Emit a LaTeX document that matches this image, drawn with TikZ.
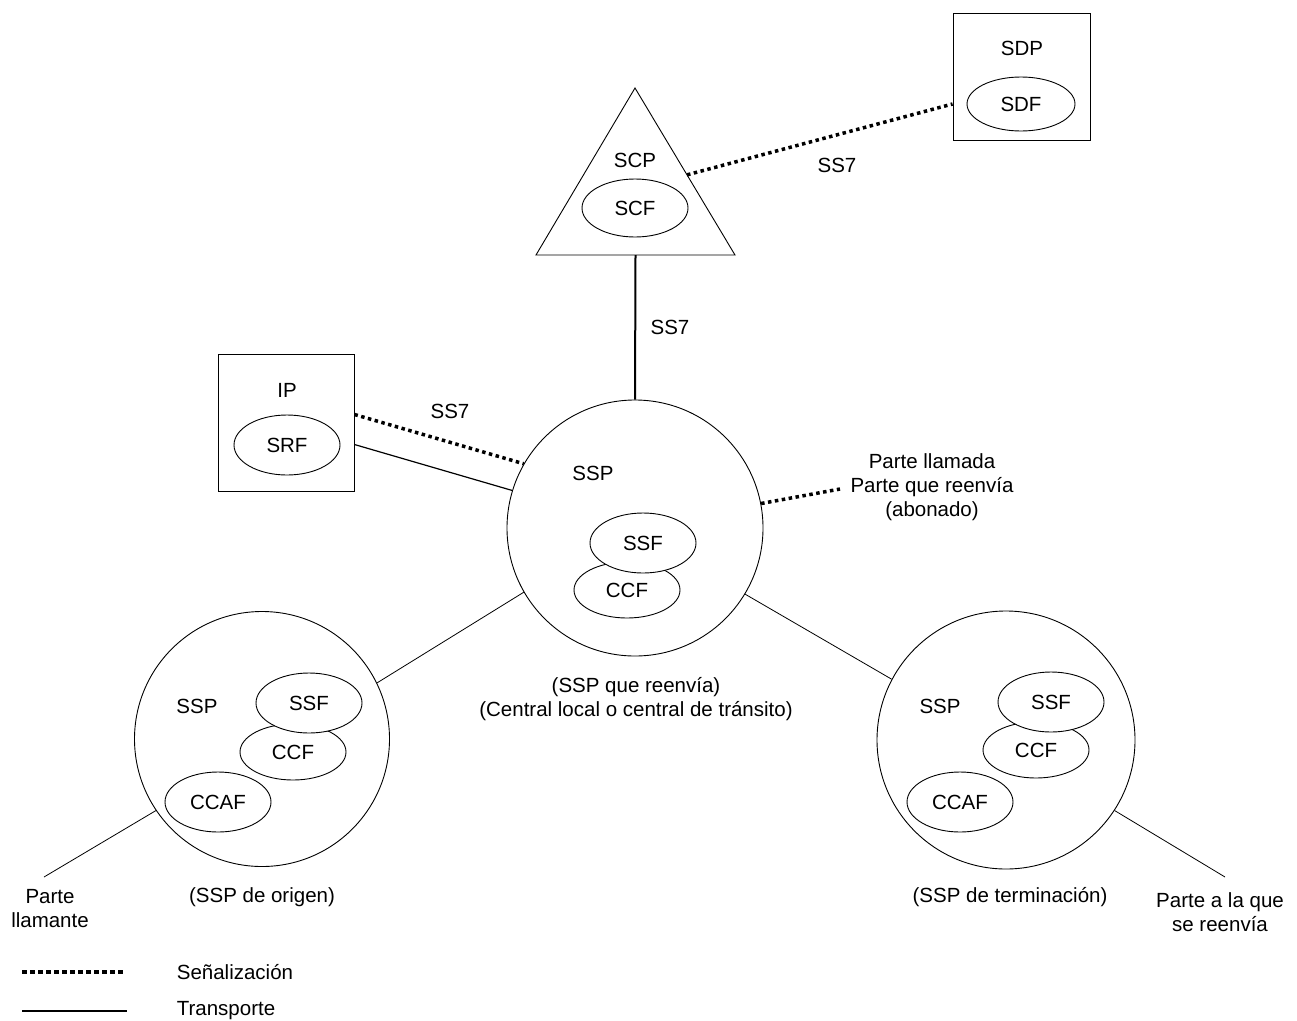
\documentclass[tikz,border=0pt]{standalone}
\usepackage{fontspec}
\setmainfont{Liberation Sans}
\usetikzlibrary{shapes.geometric,calc}
\begin{document}
\begin{tikzpicture}[x=1pt,y=-1pt,
  every node/.style={font=\fontsize{20.5}{24}\selectfont},
  lbl/.style={inner sep=0pt, align=center},
  func/.style={ellipse, draw, line width=0.9pt, fill=white, minimum width=106pt, minimum height=58pt, inner sep=0pt},
  ssp/.style={circle, draw, line width=0.9pt, fill=white, minimum size=256pt, inner sep=0pt},
  boxn/.style={rectangle, draw, line width=0.9pt, inner sep=0pt},
  signal/.style={line width=3.5pt, dash pattern=on 3.5pt off 3.5pt},
  transp/.style={line width=0.8pt},
]
\useasboundingbox (0,0) rectangle (1297,1020);

% SCP triangle
\coordinate (scpA) at (635,88);
\coordinate (scpL) at (536,255);
\coordinate (scpR) at (735,255);
\draw[line width=0.9pt, line join=miter] (scpA) -- (scpL) -- (scpR) -- cycle;
\coordinate (scpB) at ($(scpL)!0.5!(scpR)$);
\coordinate (scpS) at ($(scpA)!0.52!(scpR)$);
\node[lbl] (scp) at (635,160) {SCP};
\node[func] (scf) at (635,208) {SCF};

% SDP box
\node[boxn, minimum width=137pt, minimum height=127pt] (sdp) at (1021.5,76.5) {};
\node[lbl] (sdptxt) at (1022,48) {SDP};
\node[func, minimum width=108pt, minimum height=54pt] (sdf) at (1021,104) {SDF};

% IP box
\node[boxn, minimum width=136pt, minimum height=137pt] (ip) at (286,422.5) {};
\node[lbl] (iptxt) at (287,390) {IP};
\node[func, minimum height=60pt] (srf) at (287,445) {SRF};

% central SSP
\node[ssp] (sspc) at (635,528) {};
\node[lbl] (sspctxt) at (593,473) {SSP};
\node[func, minimum height=56pt] (ccfc) at (627,590) {CCF};
\node[func, minimum height=60pt] (ssfc) at (643,543) {SSF};
\node[lbl] (sspclab) at (636,699) {(SSP que reenvía)\\(Central local o central de tránsito)};

% left SSP
\node[ssp, minimum size=255pt] (sspl) at (262,739) {};
\node[lbl] (sspltxt) at (197,706) {SSP};
\node[func, minimum height=56pt] (ccfl) at (293,752) {CCF};
\node[func, minimum height=60pt] (ssfl) at (309,703) {SSF};
\node[func, minimum height=60pt] (ccafl) at (218,802) {CCAF};
\node[lbl] (sspllab) at (262,897) {(SSP de origen)};

% right SSP
\node[ssp, minimum size=258pt] (sspr) at (1006,740) {};
\node[lbl] (ssprtxt) at (940,706) {SSP};
\node[func, minimum height=56pt] (ccfr) at (1036,750) {CCF};
\node[func, minimum height=60pt] (ssfr) at (1051,702) {SSF};
\node[func, minimum height=60pt] (ccafr) at (960,802) {CCAF};
\node[lbl] (ssprlab) at (1010,897) {(SSP de terminación)};

% parties
\node[lbl] (calling) at (50,909) {Parte\\llamante};
\node[lbl] (fwdto) at (1220,912) {Parte a la que\\se reenvía};
\node[lbl] (called) at (932,487) {Parte llamada\\Parte que reenvía\\(abonado)};
\coordinate (callingE) at (44,877);
\coordinate (fwdtoE) at (1225,877);
\coordinate (calledE) at (840,489);

% connectors
\draw[line width=2pt] (scpB) -- (sspc.north);
\node[lbl] (ss7a) at (670,327) {SS7};
\draw[signal] (scpS) -- (sdp.west |- sdf);
\node[lbl] (ss7b) at (837,165) {SS7};
\draw[signal] ([yshift=8pt]ip.east) -- (sspc.150);
\node[lbl] (ss7c) at (450,411) {SS7};
\draw[line width=1.2pt] ([yshift=-22pt]ip.east) -- (sspc.163);
\draw[signal] (sspc.11) -- (calledE);
\draw[transp] (sspl.26) -- (sspc.210);
\draw[transp] (sspr.152) -- (sspc.-31);
\draw[transp] (sspl.214) -- (callingE);
\draw[transp] (sspr.-33) -- (fwdtoE);

% legend
\coordinate (lg1a) at (22,972);
\coordinate (lg1b) at (125,972);
\coordinate (lg2a) at (22,1011);
\coordinate (lg2b) at (127,1011);
\draw[line width=4pt, dash pattern=on 4.5pt off 3.5pt] (lg1a) -- (lg1b);
\draw[line width=2pt] (lg2a) -- (lg2b);
\node[lbl] (lgsig) at (235,972) {Señalización};
\node[lbl] (lgtr) at (226,1011) {Transporte};
\end{tikzpicture}
\end{document}
